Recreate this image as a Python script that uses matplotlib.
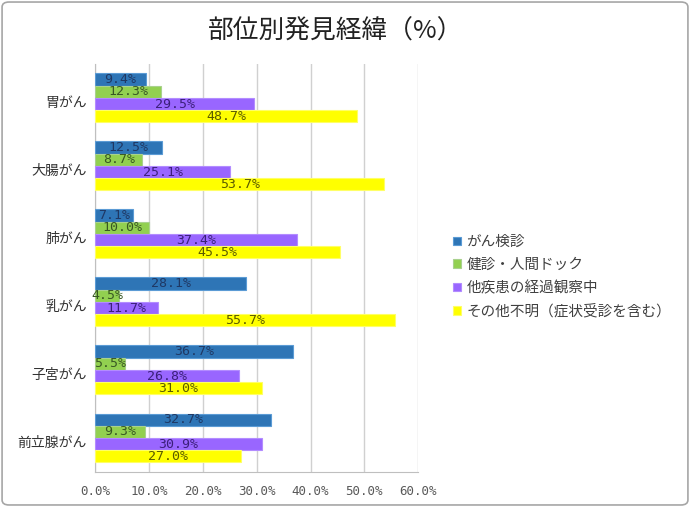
import numpy as np
import matplotlib.pyplot as plt
from matplotlib.patches import FancyBboxPatch

plt.rcParams['font.family'] = ['Noto Sans CJK JP', 'DejaVu Sans']

categories = ["胃がん", "大腸がん", "肺がん", "乳がん", "子宮がん", "前立腺がん"]
series_names = ["がん検診", "健診・人間ドック", "他疾患の経過観察中", "その他不明（症状受診を含む）"]
kenshin = [9.4, 12.5, 7.1, 28.1, 36.7, 32.7]
dock = [12.3, 8.7, 10.0, 4.5, 5.5, 9.3]
other_disease = [29.5, 25.1, 37.4, 11.7, 26.8, 30.9]
unknown = [48.7, 53.7, 45.5, 55.7, 31.0, 27.0]
xticks = [0, 10, 20, 30, 40, 50, 60]

series = [kenshin, dock, other_disease, unknown]
colors = ["#2E75B6", "#92D050", "#9966FF", "#FFFF00"]
edges = ["#5B9BD5", "#A9D18E", "#B38CFF", "#FFFF66"]
text_colors = ["#1F3864", "#385723", "#3B1F7A", "#5A5A00"]

fig = plt.figure(figsize=(6.9, 5.07), dpi=100)
ax = fig.add_axes([0.138, 0.069, 0.468, 0.805])

bh = 0.18
y = np.arange(len(categories))
for i, vals in enumerate(series):
    pos = y + (i - 1.5) * bh
    ax.barh(pos, vals, height=bh, color=colors[i], edgecolor=edges[i], linewidth=0.8,
            label=series_names[i], zorder=3)
    for p, v in zip(pos, vals):
        ax.text(v / 2, p, f"{v:.1f}%", ha="center", va="center", fontsize=9.5,
                color=text_colors[i], family="DejaVu Sans Mono", zorder=4)

ax.set_xlim(0, 60)
ax.set_ylim(len(categories) - 0.5, -0.5)
ax.set_yticks(y + 0.05)
ax.set_yticklabels(categories, fontsize=10, color="#333333")
ax.set_xticks(xticks)
ax.set_xticklabels([f"{t:.1f}%" for t in xticks], fontsize=9, color="#595959",
                   family="DejaVu Sans Mono")
ax.tick_params(axis="both", length=0, pad=6)
ax.tick_params(axis="x", pad=9)
ax.grid(axis="x", color="#D0D0D0", linewidth=1, zorder=0)
for s in ["top", "right"]:
    ax.spines[s].set_visible(False)
ax.spines["left"].set_color("#BFBFBF")
ax.spines["bottom"].set_color("#BFBFBF")

handles, labels = ax.get_legend_handles_labels()
leg = fig.legend(handles, labels, loc="center left", bbox_to_anchor=(0.637, 0.454),
                 frameon=False, fontsize=10.5, handlelength=0.55, handleheight=0.55,
                 handletextpad=0.4, labelspacing=0.6)
for t in leg.get_texts():
    t.set_color("#404040")

fig.text(0.487, 0.937, "部位別発見経緯（%）", ha="center", va="center", fontsize=18.5,
         color="#222222")

border = FancyBboxPatch((0.003, 0.004), 0.994, 0.992, boxstyle="round,pad=0,rounding_size=0.01",
                        transform=fig.transFigure, fill=False, edgecolor="#A6A6A6", linewidth=1.2)
fig.patches.append(border)

fig.savefig("out.png", dpi=100)
